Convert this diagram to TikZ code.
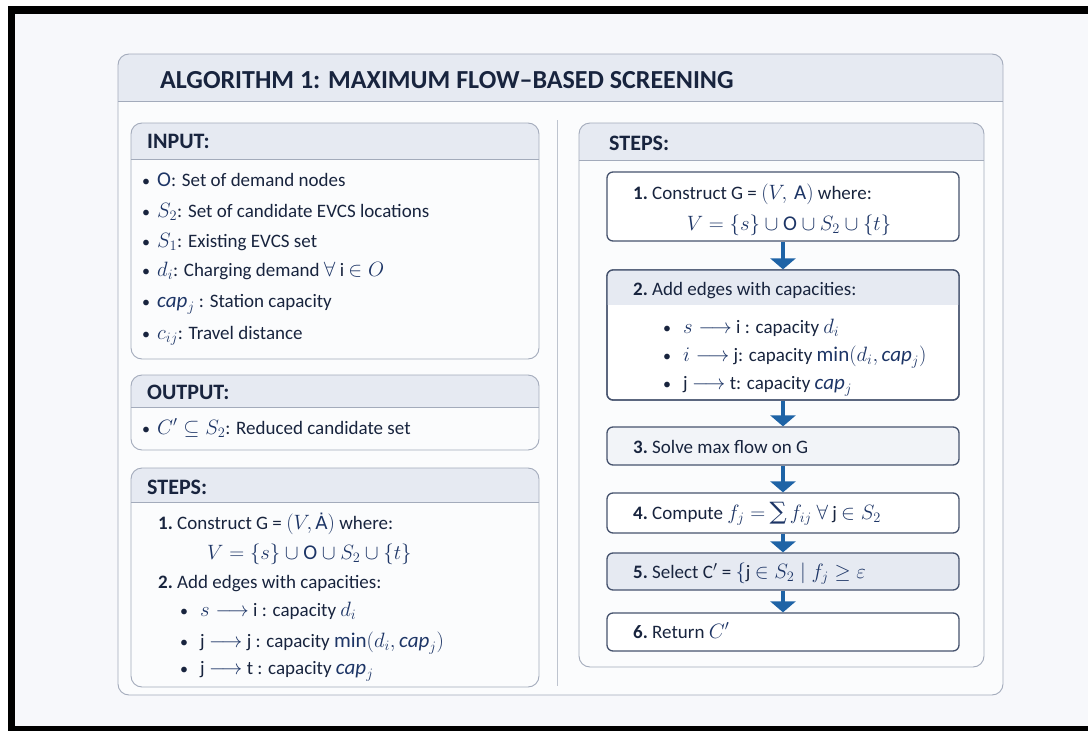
\documentclass[tikz,border=0pt]{standalone}
\usepackage{fontspec}
\setmainfont{Carlito}
\newfontfamily\accfont{DejaVu Sans}
\newfontfamily\symfont{DejaVu Serif}
\usetikzlibrary{arrows.meta}

\definecolor{pagebg}{HTML}{F7F8FB}
\definecolor{panelfill}{HTML}{FBFCFD}
\definecolor{headfill}{HTML}{E6EAF2}
\definecolor{panelline}{HTML}{A3ABBB}
\definecolor{boxline}{HTML}{46536E}
\definecolor{ink}{HTML}{18243E}
\definecolor{mathc}{HTML}{1D3566}
\definecolor{flowblue}{HTML}{1E63A6}
\definecolor{softfill}{HTML}{F2F4F8}
\definecolor{selfill}{HTML}{E6EAF2}

% coloured inline math, set a little larger than the text
\newcommand\m[1]{{\fontsize{21}{22}\selectfont\color{mathc}$#1$}}
% large summation sign
\newcommand\bigsum{{\symfont\fontsize{24}{24}\selectfont\color{mathc}∑}}
% A with dot above
\newcommand\Adot{{\accfont\fontsize{18}{22}\selectfont\color{mathc}Ȧ}}

% rounded panel with a tinted header band
\newcommand\hdrpanel[5]{%
  \fill[panelfill,rounded corners=11pt] (#1,#2) rectangle (#3,#4);
  \begin{scope}
    \clip[rounded corners=11pt] (#1,#2) rectangle (#3,#4);
    \fill[headfill] (#1,#2) rectangle (#3,#5);
    \draw[panelline,line width=0.7pt] (#1,#5) -- (#3,#5);
  \end{scope}
  \draw[panelline,line width=0.9pt,rounded corners=11pt] (#1,#2) rectangle (#3,#4);}

\tikzset{
  body/.style={anchor=base west,inner sep=0pt,text=ink,font=\fontsize{19}{22}\selectfont},
  dot/.style={anchor=base,inner sep=0pt,text=ink,font=\fontsize{16}{20}\selectfont},
  head/.style={anchor=base west,inner sep=0pt,text=ink,font=\fontsize{22}{24}\selectfont\bfseries},
  stepbox/.style={draw=boxline,line width=1.3pt,rounded corners=6pt,minimum width=352pt,inner sep=0pt},
  flow/.style={flowblue,line width=4pt,-{Triangle[width=25pt,length=11pt]}},
}

\begin{document}
\begin{tikzpicture}[x=1pt,y=-1pt]
\useasboundingbox (0,0) rectangle (1088,731);
\fill[white] (0,0) rectangle (1088,731);
\fill[pagebg] (15,14) rectangle (1088,726);
% black frame
\fill[black] (8,6) rectangle (1088,14);
\fill[black] (8,6) rectangle (15,731);
\fill[black] (8,726) rectangle (1088,731);

% outer algorithm panel
\hdrpanel{118}{54}{1003}{695}{101}
\node[anchor=base west,inner sep=0pt,text=ink,font=\fontsize{26}{28}\selectfont\bfseries] (title) at (160,88)
  {ALGORITHM 1: MAXIMUM FLOW–BASED SCREENING};

% column divider
\draw[panelline!70,line width=0.9pt] (557,120) -- (557,686);

% ---- INPUT ----
\hdrpanel{131}{123}{539}{359}{159}
\node[head] (inhead) at (147,148) {INPUT:};
\foreach \yy/\tx in {
  186/{\m{\mathrm{O}}: Set of demand nodes},
  217/{\m{S_2}: Set of candidate EVCS locations},
  247/{\m{S_1}: Existing EVCS set},
  276/{\m{d_i}: Charging demand \m{\forall} i \m{\in O}},
  307/{\m{\mathit{cap}_j} : Station capacity},
  339/{\m{c_{ij}}: Travel distance}}{
  \node[dot] at (146,\yy) {\textbullet};
  \node[body] at (157,\yy) {\tx};
}

% ---- OUTPUT ----
\hdrpanel{131}{375}{539}{450}{407}
\node[head] (outhead) at (147,399) {OUTPUT:};
\node[dot] at (146,434) {\textbullet};
\node[body] (outitem) at (157,434) {\m{C' \subseteq S_2}: Reduced candidate set};

% ---- STEPS (left summary) ----
\hdrpanel{131}{468}{539}{687}{502}
\node[head] (lsteps) at (147,494) {STEPS:};
\node[body] at (158,529) {\textbf{1.}\ Construct G = \m{(V,}\,\Adot\m{)} where:};
\node[body] at (207,559) {\m{V = \{s\} \cup \mathrm{O} \cup S_2 \cup \{t\}}};
\node[body] at (158,588) {\textbf{2.}\ Add edges with capacities:};
\foreach \yy/\tx in {
  616/{\m{s\longrightarrow} i : capacity \m{d_i}},
  647/{j \m{\longrightarrow} j : capacity \m{\min(d_i,\mathit{cap}_j)}},
  674/{j \m{\longrightarrow} t : capacity \m{\mathit{cap}_j}}}{
  \node[dot] at (184,\yy) {\textbullet};
  \node[body] at (200,\yy) {\tx};
}

% ---- STEPS (flow) ----
\hdrpanel{579}{123}{984}{667}{160}
\node[head] (rsteps) at (609,150) {STEPS:};

\node[stepbox,fill=white,minimum height=69pt] (s1) at (783,206.5) {};
\node[body] at (633,199) {\textbf{1.}\ Construct G = \m{(V,\,\mathrm{A})} where:};
\node[anchor=base,inner sep=0pt,text=ink,font=\fontsize{19}{22}\selectfont] at (789,230)
  {\m{V = \{s\} \cup \mathrm{O} \cup S_2 \cup \{t\}}};

\node[stepbox,fill=white,minimum height=130pt] (s2) at (783,335) {};
\begin{scope}
  \clip[rounded corners=6pt] (607,270) rectangle (959,400);
  \fill[headfill] (607,270) rectangle (959,305);
\end{scope}
\draw[boxline,line width=1.3pt,rounded corners=6pt] (607,270) rectangle (959,400);
\node[body] at (633,295) {\textbf{2.}\ Add edges with capacities:};
\foreach \yy/\tx in {
  333/{\m{s\longrightarrow} i : capacity \m{d_i}},
  361/{\m{i\longrightarrow} j: capacity \m{\min(d_i,\mathit{cap}_j)}},
  389/{j \m{\longrightarrow} t: capacity \m{\mathit{cap}_j}}}{
  \node[dot] at (667,\yy) {\textbullet};
  \node[body] at (683,\yy) {\tx};
}

\node[stepbox,fill=softfill,minimum height=38pt] (s3) at (783,446) {};
\node[body] at (633,453) {\textbf{3.}\ Solve max flow on G};

\node[stepbox,fill=white,minimum height=40pt] (s4) at (783,513) {};
\node[body] at (633,519) {\textbf{4.}\ Compute \m{f_j =} \bigsum\,\m{f_{ij}\ \forall} j \m{\in S_2}};

\node[stepbox,fill=selfill,minimum height=37pt] (s5) at (783,571.5) {};
\node[body] at (633,578) {\textbf{5.}\ Select C$'$ = \m{\{}j \m{\in S_2 \mid f_j \geq \varepsilon}};

\node[stepbox,fill=white,minimum height=38pt] (s6) at (783,632) {};
\node[body] at (633,638) {\textbf{6.}\ Return \m{C'}};

% flow arrows between steps
\draw[flow] (s1.south) -- (s2.north);
\draw[flow] (s2.south) -- (s3.north);
\draw[flow] (s3.south) -- (s4.north);
\draw[flow] (s4.south) -- (s5.north);
\draw[flow] (s5.south) -- (s6.north);
\end{tikzpicture}
\end{document}
